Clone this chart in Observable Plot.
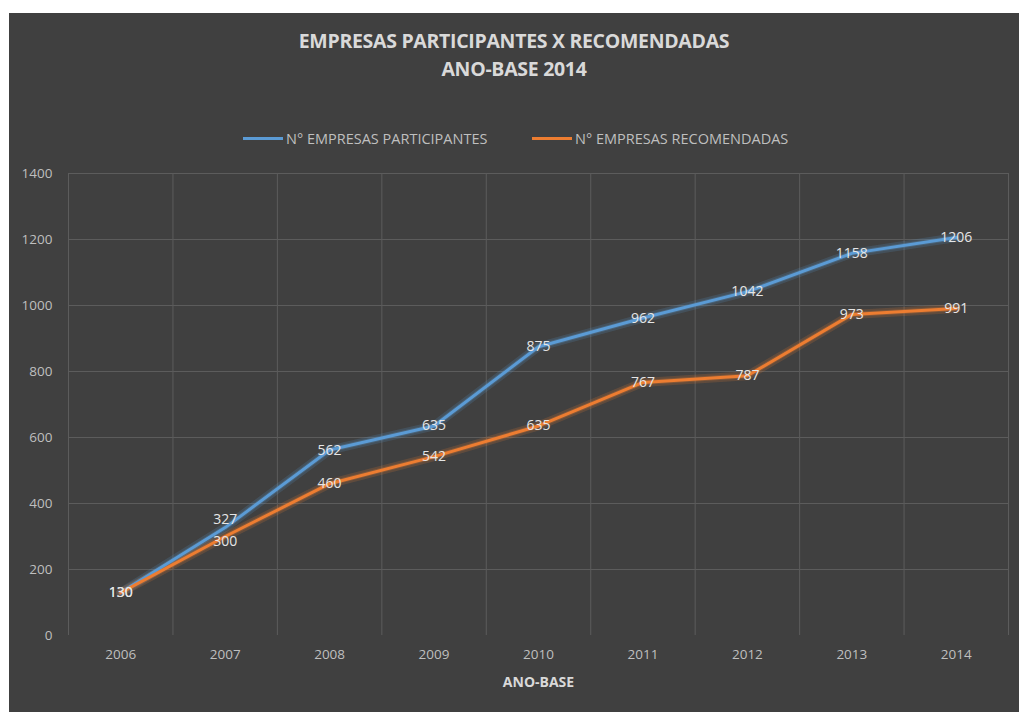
<!DOCTYPE html>
<html><head><meta charset="utf-8">
<script src="https://cdn.jsdelivr.net/npm/d3@7"></script>
<script src="https://cdn.jsdelivr.net/npm/@observablehq/plot@0.6"></script>
<style>
html,body{margin:0;padding:0;background:#fff;}
#card{position:absolute;left:9px;top:13px;width:1010px;height:699px;background:#404040;overflow:hidden;}
#title{position:absolute;left:0;width:1010px;top:14px;text-align:center;color:#d9d9d9;font-family:"Open Sans",sans-serif;font-weight:bold;font-size:19.5px;line-height:28px;letter-spacing:-0.3px;}
#legend{position:absolute;top:116px;left:0;width:1010px;font-family:"Open Sans",sans-serif;font-size:14.5px;color:#bfbfbf;}
.li{position:absolute;display:flex;align-items:center;white-space:nowrap;}
.sw{display:inline-block;width:40px;height:3px;margin-right:3px;}
#chart{position:absolute;left:0;top:142px;}
</style></head>
<body>
<div id="card">
  <div id="title">EMPRESAS PARTICIPANTES X RECOMENDADAS<br>ANO-BASE 2014</div>
  <div id="legend"></div>
  <div id="chart"></div>
</div>
<script>
const years = [2006, 2007, 2008, 2009, 2010, 2011, 2012, 2013, 2014];
const participantes = [130, 327, 562, 635, 875, 962, 1042, 1158, 1206];
const recomendadas = [130, 300, 460, 542, 635, 767, 787, 973, 991];
const seriesNames = ["N° EMPRESAS PARTICIPANTES", "N° EMPRESAS RECOMENDADAS"];
const seriesColors = ["#5b9bd5", "#ed7d31"];
const yTicks = [0, 200, 400, 600, 800, 1000, 1200, 1400];

const rows = [];
years.forEach((yr, i) => {
  rows.push({year: yr, value: participantes[i], series: seriesNames[0]});
  rows.push({year: yr, value: recomendadas[i], series: seriesNames[1]});
});
const bounds = years.map(y => y - 0.5).concat([years[years.length - 1] + 0.5]);
const crowdedYear = 2007;

// legend
const legend = document.getElementById("legend");
const legendLeft = [234, 523];
seriesNames.forEach((n, i) => {
  const d = document.createElement("div");
  d.className = "li";
  d.style.left = legendLeft[i] + "px";
  d.innerHTML = `<span class="sw" style="background:${seriesColors[i]}"></span>${n}`;
  legend.appendChild(d);
});

const labelOpts = {x: "year", y: "value", text: d => String(d.value), fill: "#e6e6e6", fontSize: 14};

const chart = Plot.plot({
  width: 1010,
  height: 550,
  marginTop: 18,
  marginBottom: 70,
  marginLeft: 59,
  marginRight: 11,
  style: {background: "transparent", fontFamily: "'Open Sans', sans-serif", fontSize: "13.5px", color: "#bfbfbf"},
  x: {domain: [bounds[0], bounds[bounds.length - 1]], ticks: years, tickFormat: d => String(d), tickSize: 0, tickPadding: 14, label: null},
  y: {domain: [0, 1400], ticks: yTicks, tickFormat: d => String(d), tickSize: 0, tickPadding: 16, label: null},
  color: {domain: seriesNames, range: seriesColors},
  marks: [
    Plot.ruleY(yTicks.filter(t => t > 0), {stroke: "#5c5c5c", strokeWidth: 1}),
    Plot.ruleX(bounds, {stroke: "#5c5c5c", strokeWidth: 1}),
    Plot.line(rows, {x: "year", y: "value", z: "series", stroke: "series", strokeWidth: 9, strokeOpacity: 0.18}),
    Plot.line(rows, {x: "year", y: "value", z: "series", stroke: "series", strokeWidth: 5, strokeOpacity: 0.25}),
    Plot.line(rows, {x: "year", y: "value", z: "series", stroke: "series", strokeWidth: 3}),
    Plot.text(rows.filter(d => d.year !== crowdedYear), labelOpts),
    Plot.text(rows.filter(d => d.year === crowdedYear && d.series === seriesNames[0]), {...labelOpts, dy: -8}),
    Plot.text(rows.filter(d => d.year === crowdedYear && d.series === seriesNames[1]), {...labelOpts, dy: 5}),
    Plot.text(["ANO-BASE"], {frameAnchor: "bottom", dy: 51, text: d => d, fill: "#d9d9d9", fontWeight: "bold", fontSize: 14, fontFamily: "'Open Sans',sans-serif"})
  ]
});
document.getElementById("chart").appendChild(chart);
</script>
</body></html>
